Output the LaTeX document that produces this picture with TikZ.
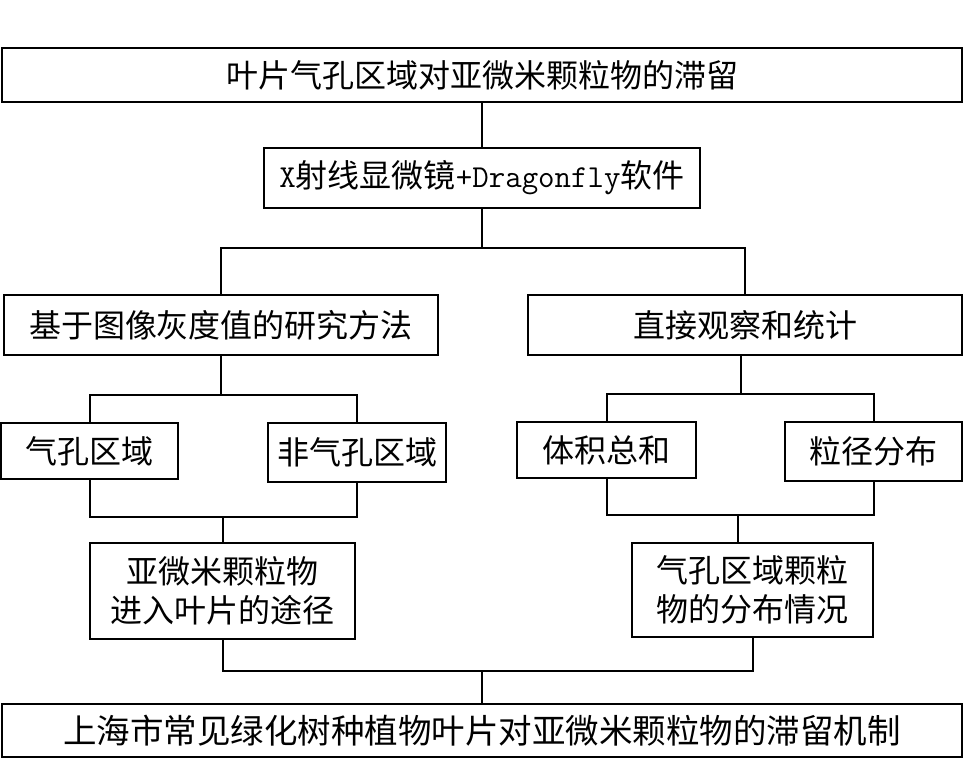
\documentclass[tikz,border=0pt]{standalone}
\usepackage{fontspec}
\newfontfamily\cjk{Noto Sans CJK SC}
\begin{document}
\begin{tikzpicture}[x=1pt,y=-1pt,
  box/.style={draw, line width=2pt, inner sep=0pt, align=center,
    font=\cjk\fontsize{32}{39}\selectfont},
  conn/.style={line width=2pt}]
\useasboundingbox (0,0) rectangle (964,771);
\node[box, minimum width=960pt, minimum height=54pt] (top) at (482,75) {叶片气孔区域对亚微米颗粒物的滞留};
\node[box, minimum width=436pt, minimum height=60pt] (mid) at (482,178)
  {{\ttfamily\fontsize{32}{39}\selectfont X}射线显微镜{\ttfamily\fontsize{32}{39}\selectfont +Dragonfly}软件};
\node[box, minimum width=434pt, minimum height=60pt] (L3) at (221,325) {基于图像灰度值的研究方法};
\node[box, minimum width=434pt, minimum height=60pt] (R3) at (745,325) {直接观察和统计};
\node[box, minimum width=177pt, minimum height=56pt] (L4a) at (89.5,451) {气孔区域};
\node[box, minimum width=178pt, minimum height=59pt] (L4b) at (357,452.5) {非气孔区域};
\node[box, minimum width=179pt, minimum height=56pt] (R4a) at (606.5,450) {体积总和};
\node[box, minimum width=177pt, minimum height=59pt] (R4b) at (873.5,451.5) {粒径分布};
\node[box, minimum width=265pt, minimum height=96pt] (L5) at (222.5,591) {亚微米颗粒物\\进入叶片的途径};
\node[box, minimum width=241pt, minimum height=94pt] (R5) at (752.5,590) {气孔区域颗粒\\物的分布情况};
\node[box, minimum width=960pt, minimum height=53pt, font=\cjk\fontsize{33.5}{39}\selectfont] (bot) at (482,730.5) {上海市常见绿化树种植物叶片对亚微米颗粒物的滞留机制};
\coordinate (j1) at (482,248);
\coordinate (j2) at (221,395);
\coordinate (j3) at (222.5,517);
\coordinate (j4) at (741,394);
\coordinate (j5) at (738,515);
\coordinate (j6) at (482,671);
\draw[conn] (top) -- (mid);
\draw[conn] (mid) -- (j1);
\draw[conn] (L3.north) |- (j1) -| (R3.north);
\draw[conn] (L3) -- (j2);
\draw[conn] (L4a.north) |- (j2) -| (L4b.north);
\draw[conn] (L4a.south) |- (j3) -| (L4b.south);
\draw[conn] (j3) -- (L5);
\draw[conn] (R3.south -| j4) -- (j4);
\draw[conn] (R4a.north) |- (j4) -| (R4b.north);
\draw[conn] (R4a.south) |- (j5) -| (R4b.south);
\draw[conn] (j5) -- (R5.north -| j5);
\draw[conn] (L5.south) |- (j6) -| (R5.south);
\draw[conn] (j6) -- (bot);
\end{tikzpicture}
\end{document}
